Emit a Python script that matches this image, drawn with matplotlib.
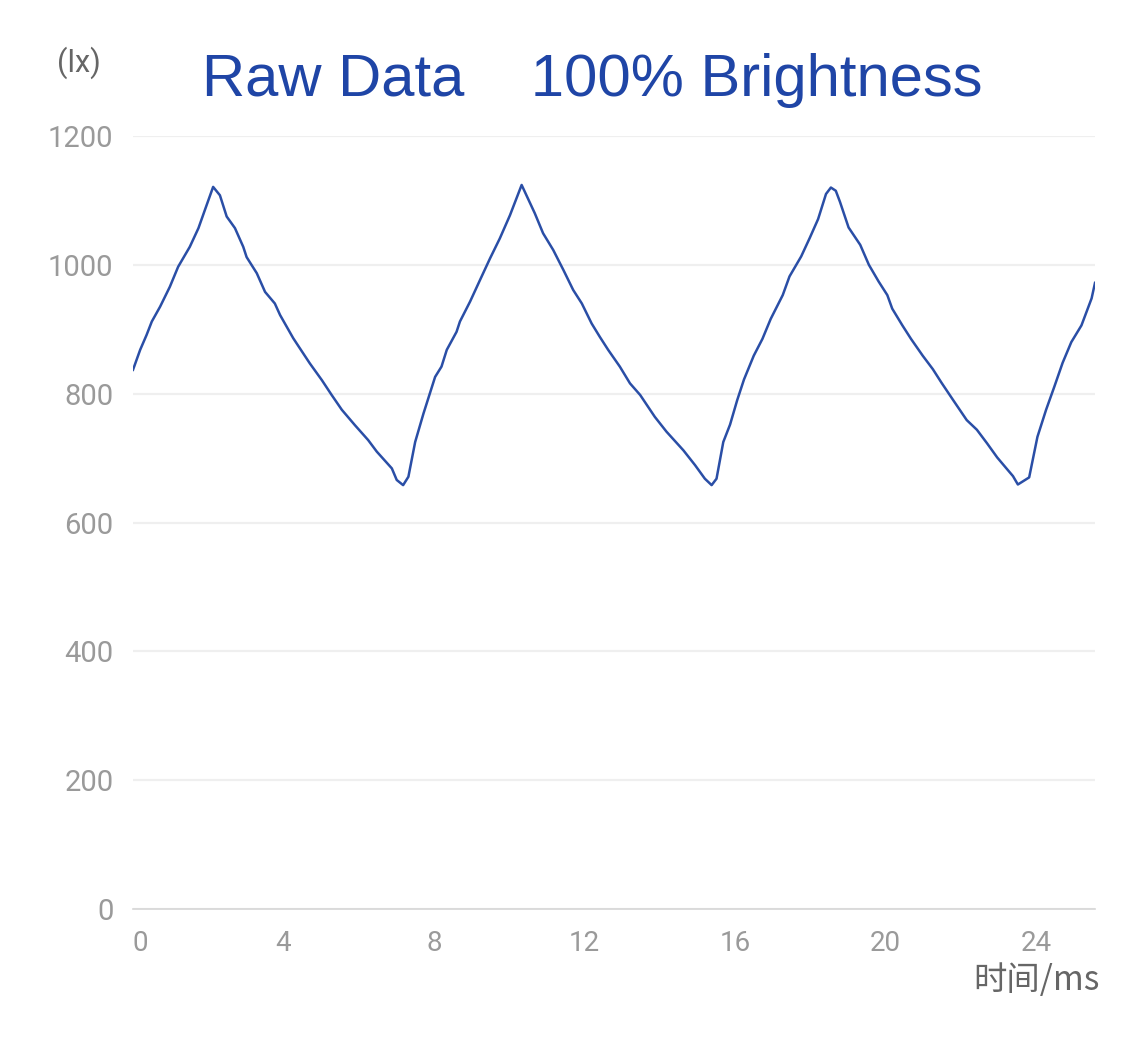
import matplotlib
matplotlib.use("Agg")
import matplotlib.pyplot as plt

# time in ms, illuminance in lx
t_ms = [0.00, 0.19, 0.36, 0.50, 0.72, 0.98, 1.20, 1.51, 1.74, 1.91, 2.13,
        2.31, 2.49, 2.71, 2.93, 3.02, 3.29, 3.51, 3.77, 3.91, 4.26, 4.44,
        4.70, 5.02, 5.28, 5.55, 5.90, 6.25, 6.48, 6.88, 7.01, 7.18,
        7.32, 7.50, 7.72, 8.03, 8.20, 8.34, 8.60, 8.69, 8.96, 9.22, 9.49,
        9.75, 10.02, 10.33,
        10.68, 10.90, 11.17, 11.44, 11.70, 11.93, 12.19, 12.41, 12.63, 12.94,
        13.21, 13.48, 13.87, 14.18, 14.63, 14.94, 15.20, 15.38,
        15.51, 15.69, 15.87, 16.06, 16.24, 16.50, 16.73, 16.95, 17.27, 17.45,
        17.76, 17.99, 18.21, 18.42, 18.55,
        18.68, 18.79, 19.02, 19.33, 19.56, 19.82, 20.05, 20.18, 20.45, 20.68,
        20.99, 21.26, 21.49, 21.80, 22.16, 22.43, 22.70, 22.97, 23.23, 23.39,
        23.52,
        23.63, 23.82, 24.04, 24.27, 24.49, 24.71, 24.94, 25.21, 25.48, 25.57]
lux = [837, 868, 891, 912, 935, 966, 997, 1028, 1057, 1085, 1121,
       1108, 1075, 1057, 1028, 1012, 987, 958, 940, 922, 886, 870,
       847, 821, 798, 775, 751, 728, 710, 684, 666, 658,
       671, 725, 769, 826, 842, 868, 896, 912, 943, 976, 1010,
       1041, 1077, 1124,
       1080, 1049, 1023, 992, 961, 940, 909, 888, 868, 842,
       816, 798, 764, 741, 712, 689, 668, 658,
       668, 725, 752, 790, 822, 859, 885, 916, 953, 982,
       1013, 1042, 1071, 1110, 1120,
       1115, 1098, 1058, 1031, 1000, 974, 953, 932, 906, 885,
       859, 838, 817, 790, 759, 744, 723, 701, 683, 672,
       659,
       663, 670, 733, 775, 811, 848, 880, 906, 948, 972]

x_ticks = [0, 4, 8, 12, 16, 20, 24]
y_ticks = [0, 200, 400, 600, 800, 1000, 1200]

plt.rcParams['font.family'] = ['Roboto', 'Noto Sans CJK SC', 'DejaVu Sans']

fig = plt.figure(figsize=(11.25, 10.4), dpi=100)
ax = fig.add_axes([133/1125, 1 - 909/1040, (1095-133)/1125, (909-136)/1040])

ax.plot(t_ms, lux, color='#2a4ea6', linewidth=1.8)

ax.set_xlim(0, 25.57)
ax.set_ylim(0, 1200)
ax.set_xticks(x_ticks)
ax.set_yticks(y_ticks)
ax.grid(axis='y', color='#efefef', linewidth=1.6)
ax.set_axisbelow(True)
for s in ['top', 'right', 'left']:
    ax.spines[s].set_visible(False)
ax.spines['bottom'].set_color('#d6d6d6')
ax.spines['bottom'].set_linewidth(1.2)
ax.tick_params(length=0, labelcolor='#9a9a9a')
ax.tick_params(axis='y', pad=14, labelsize=21)
ax.tick_params(axis='x', pad=15, labelsize=20)
ax.get_xticklabels()[0].set_horizontalalignment('left')

fig.text(202/1125, 1 - 96/1040, 'Raw Data    100% Brightness',
         color='#1f45a6', fontsize=43, family=['Liberation Sans'],
         ha='left', va='baseline')
fig.text(79/1125, 1 - 63/1040, '(lx)', color='#666666', fontsize=22,
         ha='center', va='center')
fig.text(1100/1125, 1 - 981/1040, '时间/ms', color='#666666', fontsize=24,
         family=['Noto Sans CJK SC', 'DejaVu Sans'],
         ha='right', va='center')

fig.savefig('out.png', dpi=100)
